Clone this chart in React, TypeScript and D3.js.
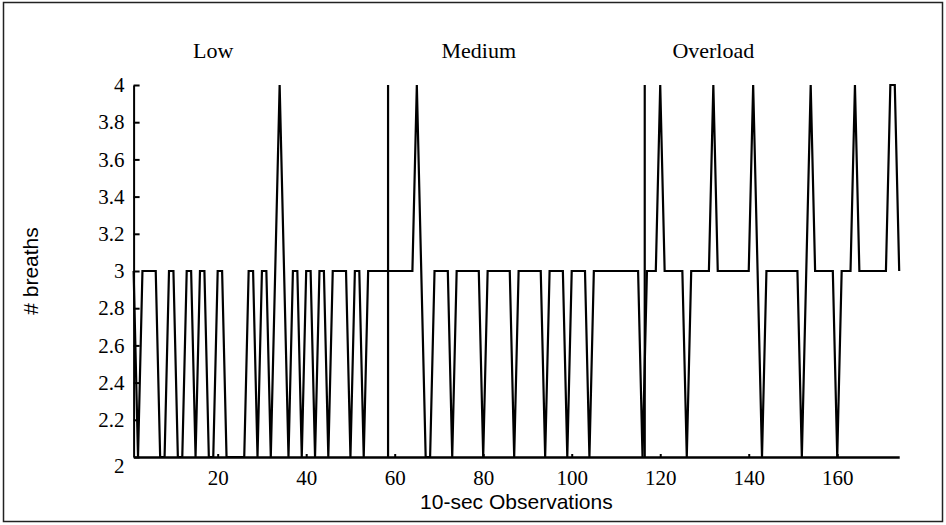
import React, { useEffect, useRef } from "react";
import * as d3 from "d3";

// # breaths per 10-sec observation, observations 1..174
const breaths = [
  3, 2, 3, 3, 3, 3, 2, 2, 3, 3, 2, 2, 3, 3, 2, 3, 3, 2, 2, 3,
  3, 2, 2, 2, 2, 2, 3, 3, 2, 3, 3, 2, 3, 4, 3, 2, 3, 3, 2, 3,
  3, 2, 3, 3, 2, 3, 3, 3, 3, 2, 3, 3, 2, 3, 3, 3, 3, 3, 3, 3,
  3, 3, 3, 3, 4, 3, 2, 2, 3, 3, 3, 3, 2, 3, 3, 3, 3, 3, 3, 2,
  3, 3, 3, 3, 3, 3, 2, 3, 3, 3, 3, 3, 3, 2, 3, 3, 3, 3, 2, 3,
  3, 3, 3, 2, 3, 3, 3, 3, 3, 3, 3, 3, 3, 3, 3, 2, 3, 3, 3, 4,
  3, 3, 3, 3, 3, 2, 3, 3, 3, 3, 3, 4, 3, 3, 3, 3, 3, 3, 3, 3,
  4, 3, 2, 3, 3, 3, 3, 3, 3, 3, 3, 2, 3, 4, 3, 3, 3, 3, 3, 2,
  3, 3, 3, 4, 3, 3, 3, 3, 3, 3, 3, 4, 4, 3,
];

const conditions = ["Low", "Medium", "Overload"];
const conditionLabelAt = [19, 79, 132];
const conditionBounds = [58.5, 116.5];
const xTicks = [20, 40, 60, 80, 100, 120, 140, 160];
const yTicks = [2, 2.2, 2.4, 2.6, 2.8, 3, 3.2, 3.4, 3.6, 3.8, 4];

const App = () => {
  const chartRef = useRef(null);

  useEffect(() => {
    const width = 946;
    const height = 525;
    const serif = "'Liberation Serif', 'Times New Roman', serif";
    const sans = "'Liberation Sans', Arial, sans-serif";

    const svg = d3.select(chartRef.current)
      .append("svg")
      .attr("width", width)
      .attr("height", height)
      .style("position", "absolute")
      .style("left", 0)
      .style("top", 0)
      .style("background", "#fff");

    // frame around the whole figure
    svg.append("rect")
      .attr("x", 3.5)
      .attr("y", 2.5)
      .attr("width", width - 7)
      .attr("height", height - 6)
      .attr("fill", "none")
      .attr("stroke", "#222")
      .attr("stroke-width", 1.5);

    const x = d3.scaleLinear().domain([1, breaths.length]).range([133.6, 899.2]);
    const y = d3.scaleLinear().domain([2, 4]).range([457, 85]);

    // y axis, ticks pointing inward
    const yAxis = svg.append("g")
      .attr("transform", `translate(${x(1)},0)`)
      .call(d3.axisLeft(y).tickValues(yTicks).tickSizeInner(-6).tickSizeOuter(0)
        .tickFormat(d3.format("~g")).tickPadding(9));
    yAxis.select(".domain").attr("stroke", "#000").attr("stroke-width", 2);
    yAxis.selectAll(".tick line").attr("stroke", "#000").attr("stroke-width", 2);
    yAxis.selectAll(".tick text")
      .style("font-family", serif)
      .style("font-size", "21px")
      .attr("fill", "#000");
    yAxis.selectAll(".tick").filter(d => d === 2).select("text").attr("dy", "0.75em");

    // x axis
    const xAxis = svg.append("g")
      .attr("transform", `translate(0,${y(2)})`)
      .call(d3.axisBottom(x).tickValues(xTicks).tickSizeInner(-3).tickSizeOuter(0).tickPadding(13));
    xAxis.select(".domain").attr("stroke", "#000").attr("stroke-width", 2.5);
    xAxis.selectAll(".tick line").attr("stroke", "#000").attr("stroke-width", 2);
    xAxis.selectAll(".tick text")
      .style("font-family", serif)
      .style("font-size", "21px")
      .attr("fill", "#000");

    // condition boundaries
    svg.selectAll(".bound")
      .data(conditionBounds)
      .enter()
      .append("line")
      .attr("x1", d => x(d))
      .attr("x2", d => x(d))
      .attr("y1", y(2))
      .attr("y2", y(4))
      .attr("stroke", "#000")
      .attr("stroke-width", 2.2);

    const line = d3.line()
      .x((d, i) => x(i + 1))
      .y(d => y(d));

    svg.append("path")
      .datum(breaths)
      .attr("d", line)
      .attr("fill", "none")
      .attr("stroke", "#000")
      .attr("stroke-width", 2.2)
      .attr("stroke-linejoin", "miter");

    svg.selectAll(".cond")
      .data(conditions)
      .enter()
      .append("text")
      .attr("x", (d, i) => x(conditionLabelAt[i]))
      .attr("y", 58)
      .attr("text-anchor", "middle")
      .style("font-family", serif)
      .style("font-size", "22px")
      .text(d => d);

    svg.append("text")
      .attr("x", (x(1) + x(breaths.length)) / 2)
      .attr("y", 509)
      .attr("text-anchor", "middle")
      .style("font-family", sans)
      .style("font-size", "21px")
      .text("10-sec Observations");

    svg.append("text")
      .attr("transform", `translate(38,${y(3)}) rotate(-90)`)
      .attr("text-anchor", "middle")
      .style("font-family", sans)
      .style("font-size", "21px")
      .text("# breaths");

    return () => {
      d3.select(chartRef.current).selectAll("svg").remove();
    };
  }, []);

  return <div ref={chartRef}></div>;
};

export default App;
